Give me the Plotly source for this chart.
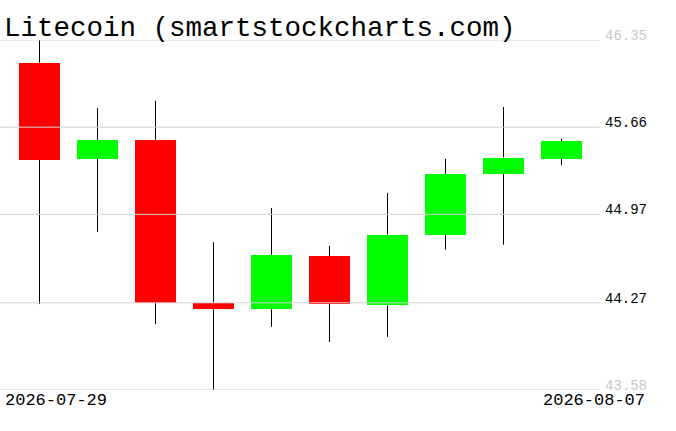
import pandas as pd
import plotly.graph_objects as go

# ---- data ----
dates = pd.date_range("2026-07-29", "2026-08-07", freq="D")
opens  = [46.17, 45.41, 45.56, 44.27, 44.22, 44.64, 44.25, 44.81, 45.29, 45.41]
highs  = [46.35, 45.81, 45.87, 44.75, 45.02, 44.72, 45.14, 45.41, 45.82, 45.57]
lows   = [44.26, 44.83, 44.10, 43.58, 44.08, 43.96, 44.00, 44.69, 44.73, 45.36]
closes = [45.40, 45.56, 44.27, 44.22, 44.65, 44.26, 44.81, 45.29, 45.42, 45.55]
y_ticks = [43.58, 44.27, 44.97, 45.66, 46.35]
title_text = "Litecoin (smartstockcharts.com)"
first_label = "2026-07-29"
last_label = "2026-08-07"

UP, DOWN = "#00ff00", "#ff0000"
GRID = "#d3d3d3"
FONT = "Liberation Mono"
DAY_MS = 86400000

fig = go.Figure()

# wicks (drawn outside the bodies)
wx, wy = [], []
for d, o, h, l, c in zip(dates, opens, highs, lows, closes):
    top, bot = max(o, c), min(o, c)
    wx += [d, d, None, d, d, None]
    wy += [top, h, None, l, bot, None]
fig.add_trace(go.Scatter(x=wx, y=wy, mode="lines",
                         line=dict(color="black", width=1),
                         hoverinfo="skip", showlegend=False))

# bodies
base = [min(o, c) for o, c in zip(opens, closes)]
height = [abs(c - o) for o, c in zip(opens, closes)]
colors = [UP if c >= o else DOWN for o, c in zip(opens, closes)]
fig.add_trace(go.Bar(x=dates, y=height, base=base, width=0.69 * DAY_MS,
                     marker=dict(color=colors, line=dict(width=0)),
                     showlegend=False))

# gridlines above the candles
for v in y_ticks:
    fig.add_shape(type="line", xref="paper", x0=0, x1=1, yref="y", y0=v, y1=v,
                  line=dict(color=GRID, width=1), layer="above")

tick_text = []
for i, v in enumerate(y_ticks):
    s = f"{v:.2f}"
    if i == 0 or i == len(y_ticks) - 1:
        s = f'<span style="color:#c8c8c8">{s}</span>'
    tick_text.append(s)

pad_l = 0.681 * DAY_MS
pad_r = 0.664 * DAY_MS
fig.update_xaxes(range=[dates[0] - pd.Timedelta(milliseconds=pad_l),
                        dates[-1] + pd.Timedelta(milliseconds=pad_r)],
                 showgrid=False, showticklabels=False, zeroline=False,
                 showline=False, ticks="")
fig.update_yaxes(range=[y_ticks[0], y_ticks[-1]], side="right",
                 tickvals=y_ticks, ticktext=tick_text,
                 showgrid=False, zeroline=False, showline=False, ticks="",
                 ticklabelstandoff=4, ticklabelshift=-5,
                 tickfont=dict(family=FONT, size=14, color="black"))

fig.add_annotation(text=title_text, xref="paper", yref="paper", x=0, y=1,
                   xanchor="left", yanchor="middle", xshift=2, yshift=12,
                   showarrow=False, font=dict(family=FONT, size=27.5, color="black"))
fig.add_annotation(text=first_label, xref="paper", yref="paper", x=0, y=0,
                   xanchor="left", yanchor="middle", xshift=3, yshift=-10,
                   showarrow=False, font=dict(family=FONT, size=17, color="black"))
fig.add_annotation(text=last_label, xref="paper", yref="paper", x=1, y=0,
                   xanchor="right", yanchor="middle", xshift=47, yshift=-10,
                   showarrow=False, font=dict(family=FONT, size=17, color="black"))

fig.update_layout(width=676, height=431, margin=dict(l=0, r=76, t=40, b=41),
                  plot_bgcolor="white", paper_bgcolor="white",
                  bargap=0, showlegend=False)

fig.write_html("out.html", config={"displayModeBar": False},
               post_script="document.body.style.margin='0';")
